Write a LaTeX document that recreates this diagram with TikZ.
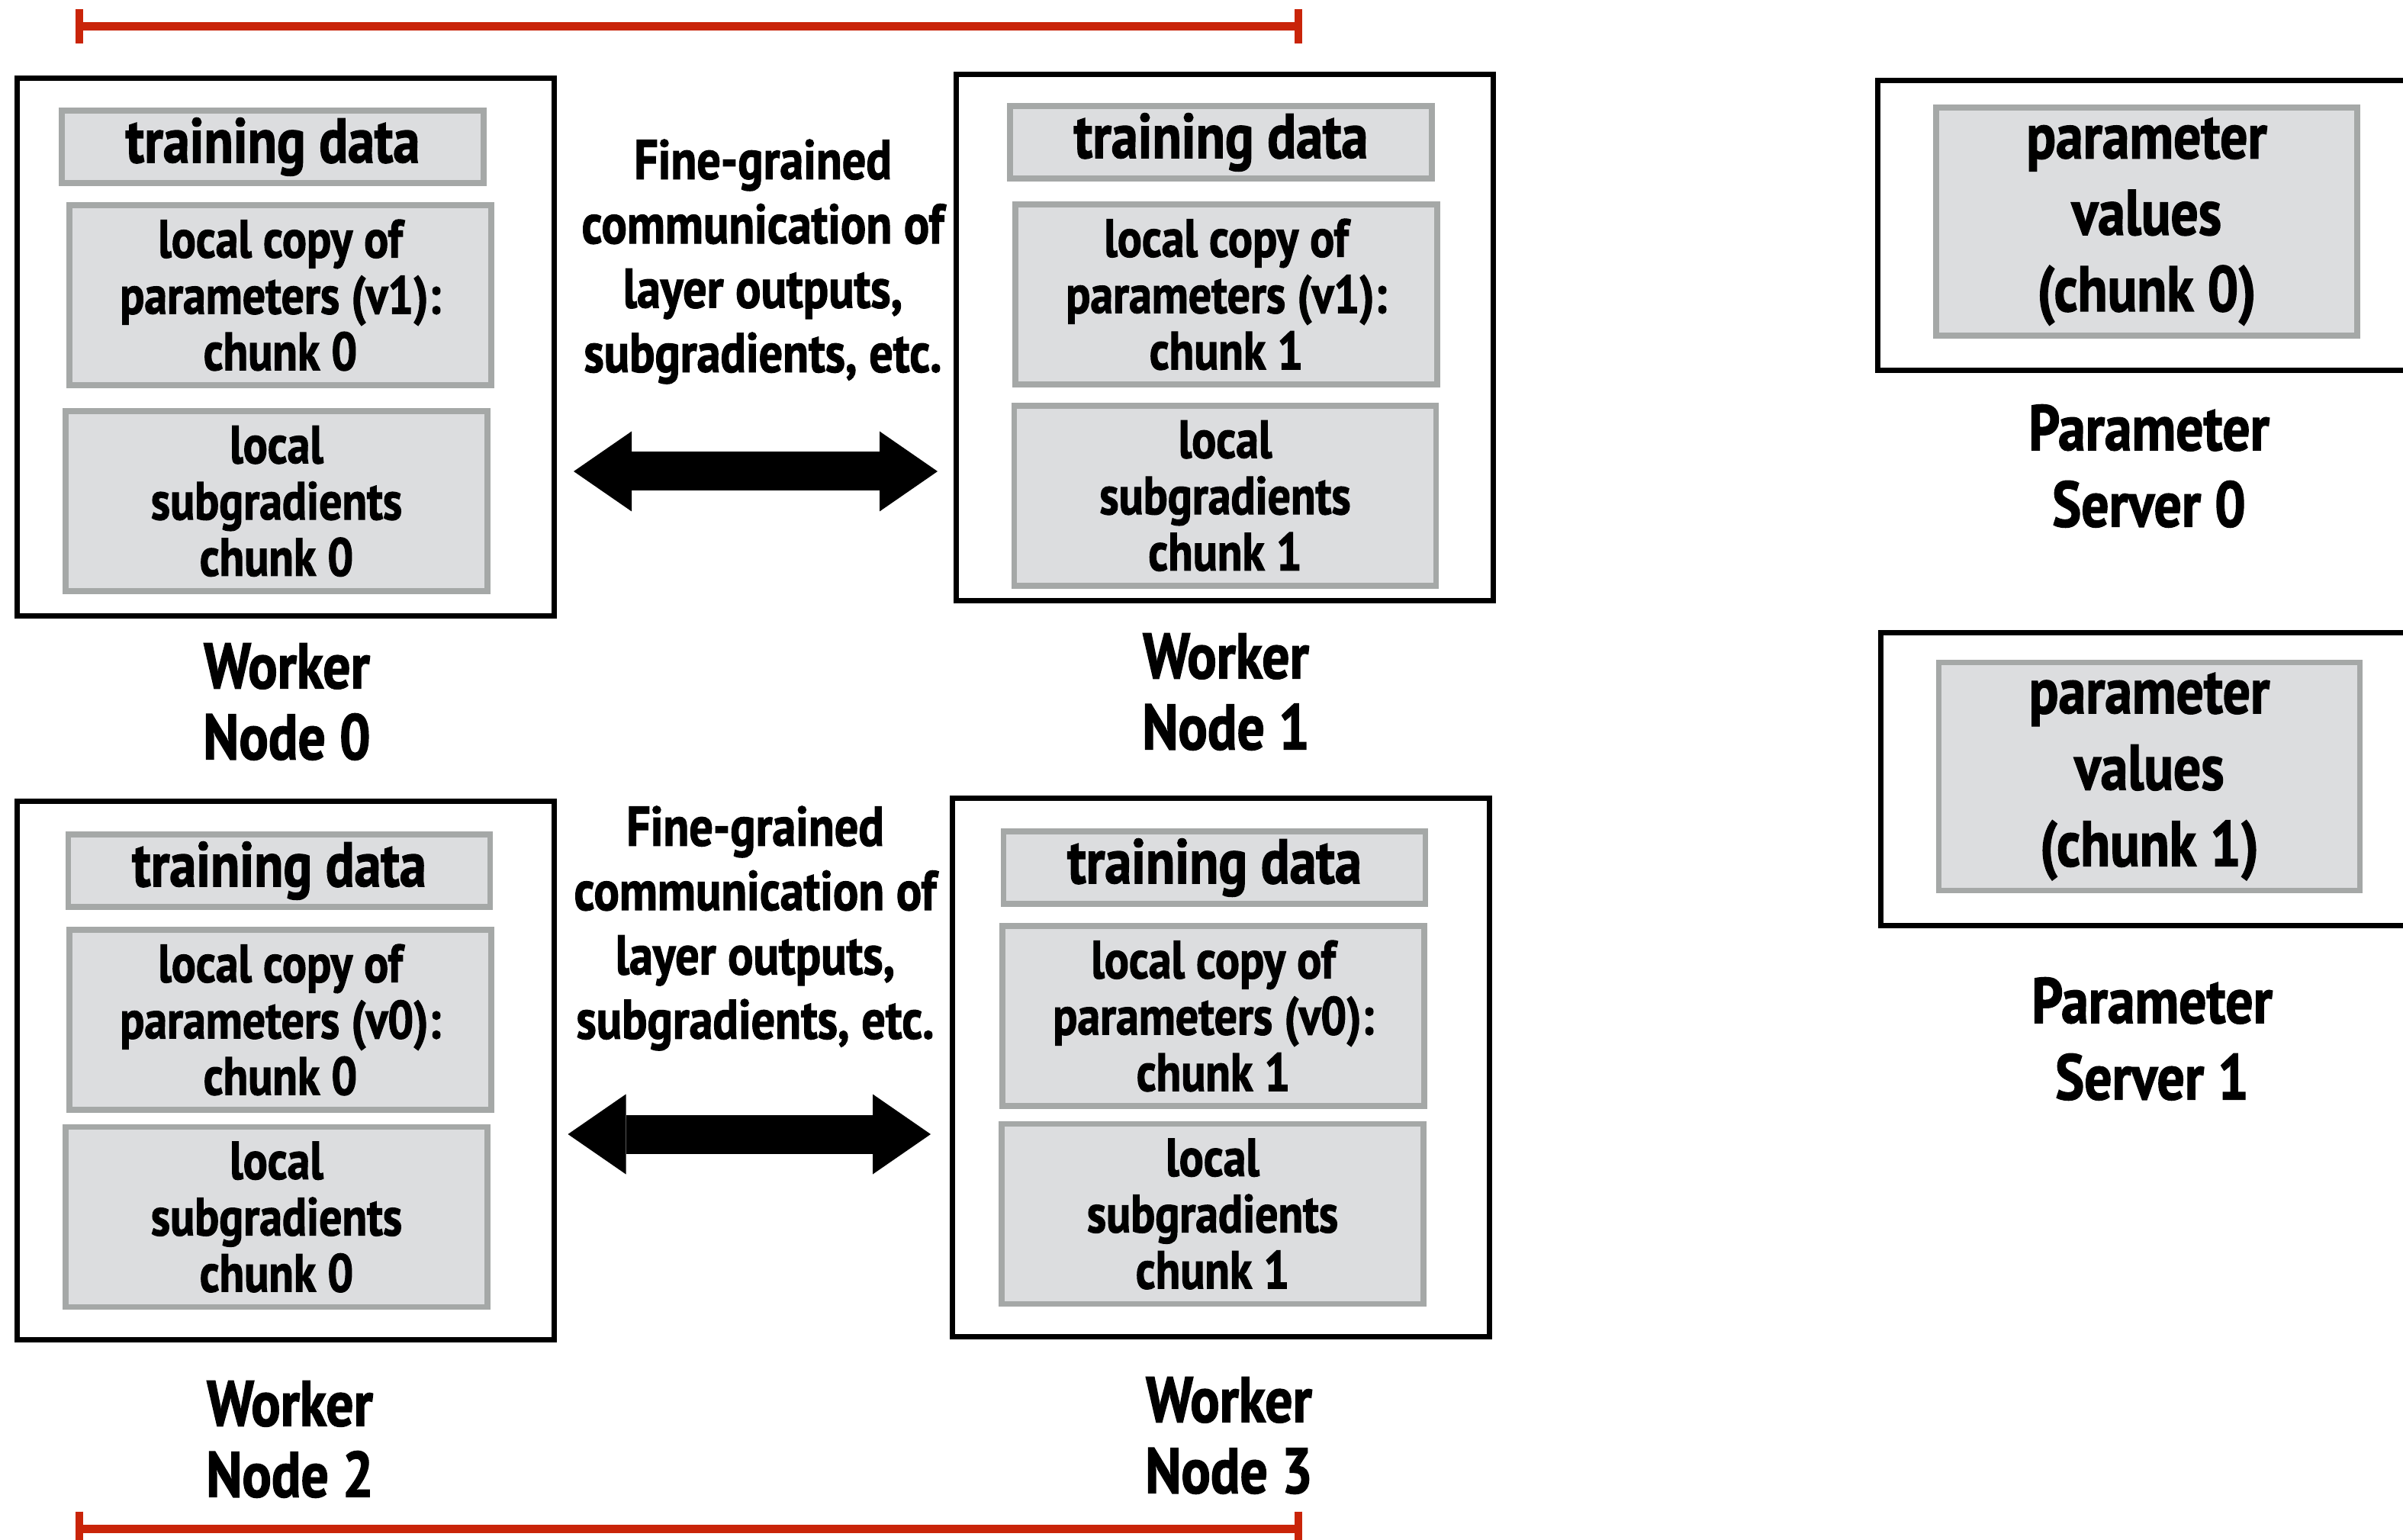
\documentclass[tikz,border=0pt]{standalone}
\usepackage{fontspec}
\setmainfont{PT Sans}[FakeStretch=0.85, BoldFeatures={FakeBold=1.6}]
\usetikzlibrary{arrows.meta, positioning}

\definecolor{partfill}{RGB}{220,221,223}
\definecolor{partedge}{RGB}{165,168,167}
\definecolor{spanred}{RGB}{201,36,9}

\tikzset{
  worker/.style={draw, line width=0.07cm, inner sep=0pt, minimum width=7.04cm},
  part/.style={draw=partedge, fill=partfill, line width=0.076cm, inner sep=0pt,
    align=center, minimum width=5.53cm,
    font=\fontsize{20pt}{21pt}\selectfont\bfseries},
  datapart/.style={part, minimum height=0.95cm,
    font=\fontsize{23.5pt}{24pt}\selectfont\bfseries},
  chunkpart/.style={part, minimum height=2.36cm},
  valpart/.style={part, minimum width=5.52cm, minimum height=2.99cm,
    font=\fontsize{24pt}{28.5pt}\selectfont\bfseries},
  caption/.style={align=center, font=\fontsize{24pt}{26.5pt}\selectfont\bfseries},
  servercaption/.style={align=center, font=\fontsize{24pt}{28.5pt}\selectfont\bfseries},
  commtext/.style={align=center, font=\fontsize{20.8pt}{24pt}\selectfont\bfseries},
  bigarrow/.style={line width=0.51cm,
    {Triangle[length=0.76cm, width=1.05cm, line width=0pt]}-{Triangle[length=0.76cm, width=1.05cm, line width=0pt]}},
  span/.style={spanred, line width=0.11cm},
  spantick/.style={spanred, line width=0.1cm}
}

\begin{document}
\begin{tikzpicture}
  \clip (0,0) rectangle (31.5,-20.19);

  % red spans above and below the worker nodes
  \foreach \y in {-0.345,-20.04}{
    \draw[span] (1.04,\y) -- (17.02,\y);
    \draw[spantick] (1.04,\y+0.225) -- (1.04,\y-0.225);
    \draw[spantick] (17.02,\y+0.225) -- (17.02,\y-0.225);
  }

  % worker node 0
  \node[worker, minimum height=7.05cm] (w0) at (3.745,-4.55) {};
  \node[datapart] (td0) at (3.575,-1.925) {training data};
  \node[chunkpart] (lc0) at (3.675,-3.87) {local copy of\\parameters (v1):\\chunk 0};
  \node[chunkpart] (sg0) at (3.625,-6.57) {local\\subgradients\\chunk 0};
  \node[caption] (cap0) at (3.76,-9.2) {Worker\\Node 0};

  % worker node 1
  \node[worker, minimum height=6.90cm] (w1) at (16.055,-4.425) {};
  \node[datapart] (td1) at (16.005,-1.865) {training data};
  \node[chunkpart] (lc1) at (16.075,-3.86) {local copy of\\parameters (v1):\\chunk 1};
  \node[chunkpart] (sg1) at (16.06,-6.50) {local\\subgradients\\chunk 1};
  \node[caption] (cap1) at (16.07,-9.07) {Worker\\Node 1};

  % worker node 2
  \node[worker, minimum height=7.06cm] (w2) at (3.74,-14.035) {};
  \node[datapart] (td2) at (3.66,-11.415) {training data};
  \node[chunkpart] (lc2) at (3.675,-13.37) {local copy of\\parameters (v0):\\chunk 0};
  \node[chunkpart] (sg2) at (3.625,-15.955) {local\\subgradients\\chunk 0};
  \node[caption] (cap2) at (3.80,-18.87) {Worker\\Node 2};

  % worker node 3
  \node[worker, minimum height=7.06cm] (w3) at (16.005,-13.995) {};
  \node[datapart] (td3) at (15.92,-11.375) {training data};
  \node[chunkpart] (lc3) at (15.905,-13.32) {local copy of\\parameters (v0):\\chunk 1};
  \node[chunkpart] (sg3) at (15.895,-15.915) {local\\subgradients\\chunk 1};
  \node[caption] (cap3) at (16.11,-18.82) {Worker\\Node 3};

  % communication between workers
  \node[commtext] (comm01) at (10.0,-3.43) {Fine-grained\\communication of\\layer outputs,\\subgradients, etc.};
  \node[commtext] (comm23) at (9.9,-12.17) {Fine-grained\\communication of\\layer outputs,\\subgradients, etc.};
  \draw[bigarrow] ([xshift=0.22cm]w0.east |- 0,-6.18) -- ([xshift=-0.21cm]w1.west |- 0,-6.18);
  \draw[bigarrow] ([xshift=0.15cm]w2.east |- 0,-14.87) -- ([xshift=-0.25cm]w3.west |- 0,-14.87);

  % parameter servers
  \node[worker, minimum width=7.05cm, minimum height=3.80cm] (ps0) at (28.14,-2.955) {};
  \node[valpart] (pv0) at (28.14,-2.905) {parameter\\values\\(chunk 0)};
  \node[servercaption] (pcap0) at (28.17,-6.11) {Parameter\\Server 0};

  \node[worker, minimum width=7.05cm, minimum height=3.84cm] (ps1) at (28.175,-10.215) {};
  \node[valpart] (pv1) at (28.175,-10.18) {parameter\\values\\(chunk 1)};
  \node[servercaption] (pcap1) at (28.21,-13.62) {Parameter\\Server 1};
\end{tikzpicture}
\end{document}
